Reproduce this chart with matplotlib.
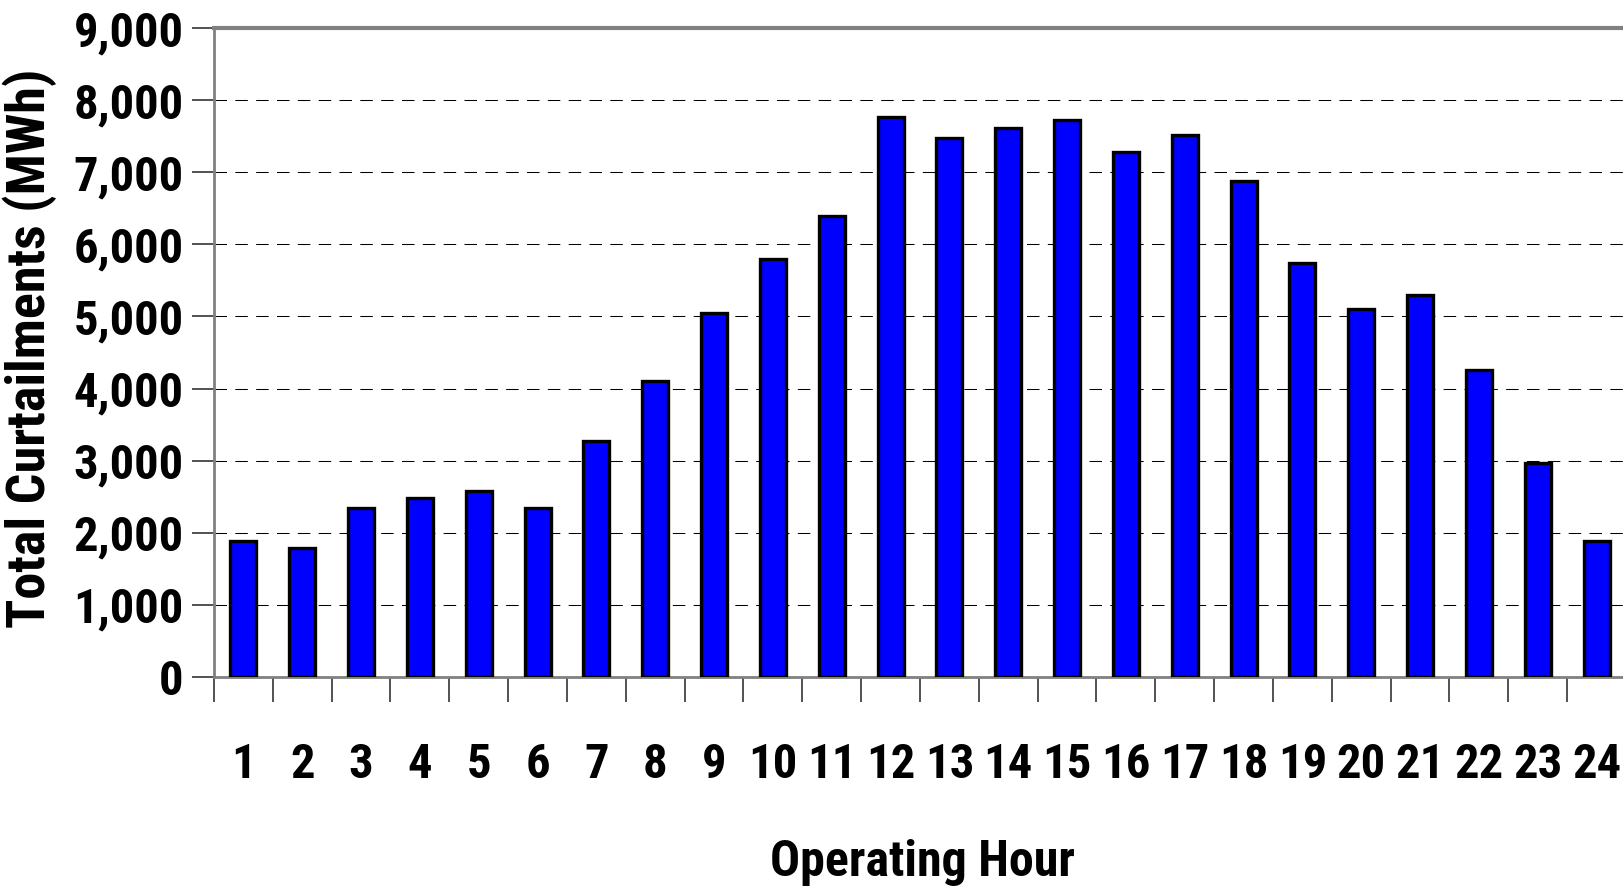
import matplotlib
matplotlib.use("Agg")
import matplotlib.pyplot as plt
from matplotlib import font_manager as fm
from matplotlib.ticker import FixedLocator, FuncFormatter

hours = [str(h) for h in range(1, 25)]
curtailments = [1890, 1790, 2340, 2480, 2580, 2340, 3270, 4100, 5050, 5800, 6390, 7760,
                7480, 7620, 7720, 7280, 7520, 6880, 5740, 5110, 5300, 4260, 2970, 1890]
y_ticks = list(range(0, 9001, 1000))
x_label = "Operating Hour"
y_label = "Total Curtailments (MWh)"

# pick a condensed bold font if one is available
names = {f.name for f in fm.fontManager.ttflist}
family = "Liberation Sans"
scale = 29 / 34
stretch = "normal"
for cand in ["Roboto Condensed", "Liberation Sans Narrow", "Arial Narrow", "Open Sans Condensed"]:
    if cand in names:
        family = cand
        scale = 1.0
        break
else:
    cond = [f for f in fm.fontManager.ttflist if f.name == "DejaVu Sans" and "ondensed" in f.fname]
    if cond:
        family = "DejaVu Sans"
        stretch = "condensed"
        scale = 28 / 34


def fp(size):
    return fm.FontProperties(family=family, weight="bold", size=size * scale, stretch=stretch)


fig = plt.figure(figsize=(16.24, 8.91), dpi=100)
ax = fig.add_axes([214 / 1624, (891 - 677) / 891, (1626 - 214) / 1624, (677 - 28) / 891])

n = len(hours)
xs = list(range(n))
ax.bar(xs, curtailments, width=0.44, color="#0000FF", edgecolor="black", linewidth=2.4, zorder=3)

ax.set_xlim(-0.5, n - 0.5)
ax.set_ylim(0, 9000)

ax.yaxis.set_major_locator(FixedLocator(y_ticks))
ax.yaxis.set_major_formatter(FuncFormatter(lambda v, p: f"{int(v):,}"))
ax.grid(axis="y", color="black", linewidth=0.75, linestyle=(0, (12, 8)), zorder=1)
ax.set_axisbelow(True)

# x: ticks at category boundaries, labels at centers
ax.set_xticks([i - 0.5 for i in range(n + 1)])
ax.set_xticklabels([])
ax.set_xticks(xs, minor=True)
ax.set_xticklabels(hours, minor=True)
ax.tick_params(axis="x", which="major", direction="out", length=18, width=1.2, color="#333333")
ax.tick_params(axis="x", which="minor", length=0, pad=47)
ax.tick_params(axis="y", direction="out", length=16, width=1.2, color="#333333", pad=6)

for lab in ax.get_xticklabels(minor=True) + ax.get_yticklabels():
    lab.set_fontproperties(fp(35))

for s in ["left", "bottom"]:
    ax.spines[s].set_color("#808080")
    ax.spines[s].set_linewidth(2)
ax.spines["top"].set_color("#808080")
ax.spines["top"].set_linewidth(3)
ax.spines["right"].set_visible(False)

fig.text(923 / 1624, (891 - 862) / 891, x_label, ha="center", va="center", fontproperties=fp(36))
fig.text(30 / 1624, (891 - 348) / 891, y_label, ha="center", va="center", rotation=90,
         fontproperties=fp(39))

fig.savefig("out.png", dpi=100)
